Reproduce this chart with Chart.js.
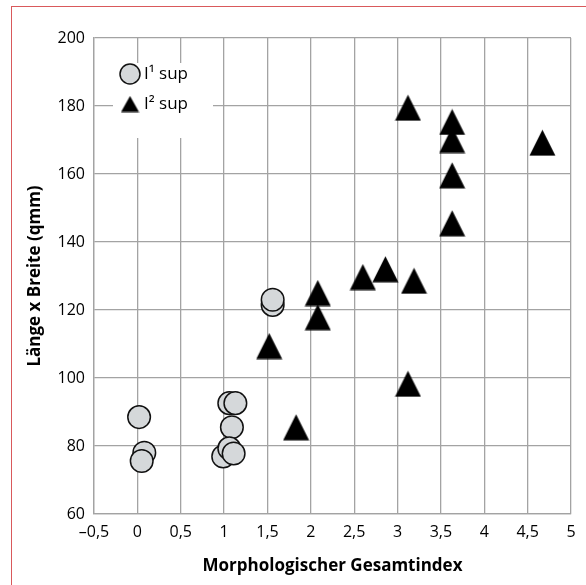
<!DOCTYPE html>
<html>
<head>
<meta charset="utf-8">
<script src="https://cdn.jsdelivr.net/npm/chart.js@4/dist/chart.umd.min.js"></script>
<style>
    html, body { margin: 0; padding: 0; background: #fff; overflow: hidden; }
    #frame { position: absolute; left: 11px; top: 6px; width: 700px; height: 700px; border: 1.5px solid #d9595b; }
    #wrap { position: absolute; left: 0; top: 0; width: 586px; height: 585px; }
</style>
</head>
<body>
<div id="frame"></div>
<div id="wrap"><canvas id="chart" width="586" height="585"></canvas></div>
<script>
// I1 sup (circles)
const i1X = [0.02, 0.08, 0.05, 1.56, 1.56, 1.06, 1.13, 1.09, 0.99, 1.06, 1.11];
const i1Y = [88.5, 78.0, 75.6, 121.5, 123.0, 92.6, 92.6, 85.5, 76.9, 79.3, 77.8];

// I2 sup (triangles)
const i2X = [1.52, 1.83, 2.08, 2.08, 2.60, 2.86, 3.19, 3.12, 3.12, 3.63, 3.63, 3.63, 3.63, 4.67];
const i2Y = [109.4, 85.5, 125.0, 117.9, 129.7, 132.0, 128.6, 98.3, 179.5, 175.3, 170.0, 159.6, 145.5, 169.2];

const xTicks = [-0.5, 0, 0.5, 1, 1.5, 2, 2.5, 3, 3.5, 4, 4.5, 5];
const yTicks = [60, 80, 100, 120, 140, 160, 180, 200];

const labels = ['I\u00b9 sup', 'I\u00b2 sup'];

const circleFill = '#d5d8da';
const gridColor = '#a3a3a3';
const fontFamily = '"Open Sans", "Noto Sans", sans-serif';

function makeTriangle(w, h) {
    const c = document.createElement('canvas');
    c.width = w;
    c.height = h;
    const g = c.getContext('2d');
    g.fillStyle = '#000';
    g.beginPath();
    g.moveTo(w / 2, 0.5);
    g.lineTo(w - 0.5, h - 0.5);
    g.lineTo(0.5, h - 0.5);
    g.closePath();
    g.fill();
    return c;
}

const triangleImg = makeTriangle(27, 27);
const legendTriangle = makeTriangle(19, 17);

function toPoints(xs, ys) {
    return xs.map((x, i) => ({ x: x, y: ys[i] }));
}

// legend box sitting on the grid, top left
const legendBox = {
    id: 'legendBox',
    beforeDatasetsDraw(chart) {
        const ctx = chart.ctx;
        ctx.save();
        ctx.fillStyle = '#fff';
        ctx.fillRect(113, 63, 100, 75);

        ctx.beginPath();
        ctx.arc(130, 74, 10, 0, Math.PI * 2);
        ctx.fillStyle = circleFill;
        ctx.fill();
        ctx.lineWidth = 1.5;
        ctx.strokeStyle = '#111';
        ctx.stroke();

        ctx.drawImage(legendTriangle, 130 - 9.5, 104 - 8.5);

        ctx.fillStyle = '#000';
        ctx.font = '17px ' + fontFamily;
        ctx.textBaseline = 'middle';
        ctx.textAlign = 'left';
        ctx.fillText(labels[0], 144, 74);
        ctx.fillText(labels[1], 144, 104);
        ctx.restore();
    }
};

const ctx = document.getElementById('chart').getContext('2d');

new Chart(ctx, {
    type: 'scatter',
    data: {
        datasets: [
            {
                label: labels[1],
                data: toPoints(i2X, i2Y),
                pointStyle: triangleImg,
                pointRadius: 13,
                pointHoverRadius: 13
            },
            {
                label: labels[0],
                data: toPoints(i1X, i1Y),
                pointStyle: 'circle',
                pointRadius: 11.3,
                pointHoverRadius: 11.3,
                backgroundColor: circleFill,
                borderColor: '#111',
                borderWidth: 1.5
            }
        ]
    },
    options: {
        responsive: false,
        animation: false,
        events: [],
        layout: { padding: { top: 38, right: 15, left: 0, bottom: 0 } },
        plugins: {
            legend: { display: false },
            tooltip: { enabled: false }
        },
        scales: {
            x: {
                type: 'linear',
                min: -0.5,
                max: 5,
                afterBuildTicks: (axis) => { axis.ticks = xTicks.map(v => ({ value: v })); },
                afterFit: (axis) => { axis.height = 71; },
                grid: { color: gridColor, lineWidth: 1.3, drawTicks: false },
                border: { color: gridColor, width: 1.3 },
                ticks: {
                    color: '#000',
                    padding: 9,
                    maxRotation: 0,
                    font: { family: fontFamily, size: 16 },
                    callback: (v) => (v < 0 ? '\u2013' : '') + String(Math.abs(v)).replace('.', ',')
                },
                title: {
                    display: true,
                    text: 'Morphologischer Gesamtindex',
                    color: '#000',
                    padding: { top: 0, bottom: 9 },
                    font: { family: fontFamily, size: 17, weight: 'bold' }
                }
            },
            y: {
                type: 'linear',
                min: 60,
                max: 200,
                afterBuildTicks: (axis) => { axis.ticks = yTicks.map(v => ({ value: v })); },
                afterFit: (axis) => { axis.width = 94; },
                grid: { color: gridColor, lineWidth: 1.3, drawTicks: false },
                border: { color: gridColor, width: 1.3 },
                ticks: {
                    color: '#000',
                    padding: 9,
                    font: { family: fontFamily, size: 16 }
                },
                title: {
                    display: true,
                    text: 'Länge x Breite (qmm)',
                    color: '#000',
                    padding: { top: 25, bottom: 0 },
                    font: { family: fontFamily, size: 17, weight: 'bold' }
                }
            }
        }
    },
    plugins: [legendBox]
});
</script>
</body>
</html>
